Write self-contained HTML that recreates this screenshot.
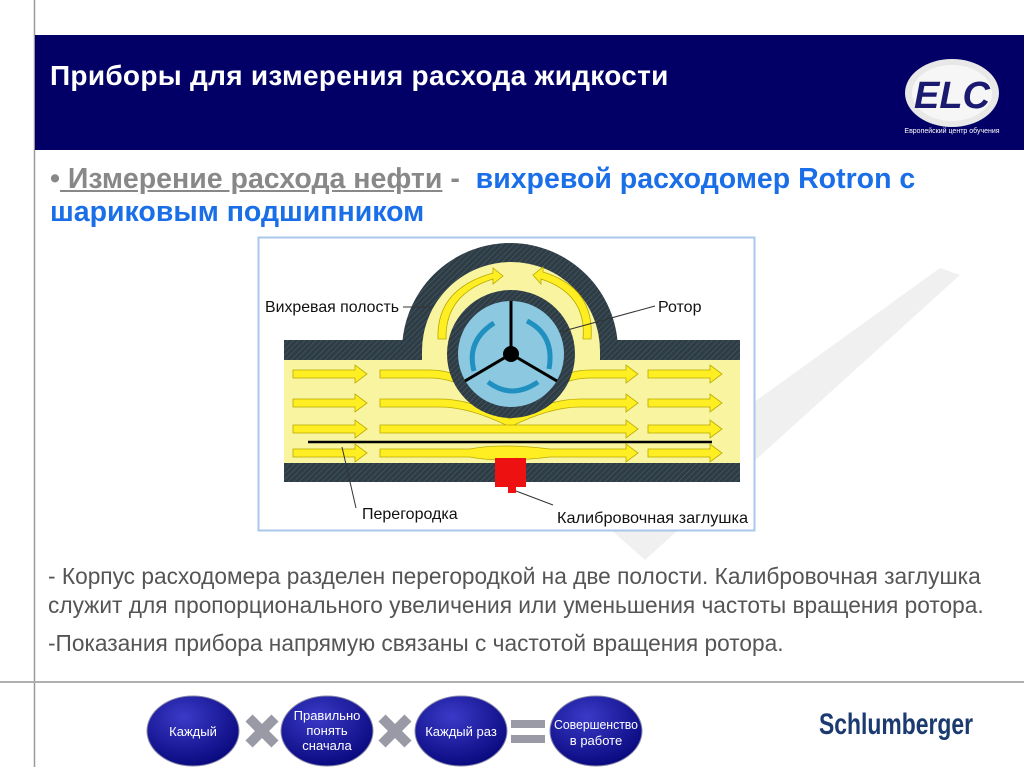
<!DOCTYPE html>
<html><head><meta charset="utf-8"><style>
body{margin:0;width:1024px;height:767px;background:#fff;position:relative;overflow:hidden;font-family:"Liberation Sans",sans-serif}
.abs{position:absolute;white-space:nowrap}
</style></head><body>
<svg class="abs" style="left:0;top:0" width="1024" height="767">
<polygon points="600,520 645,560 960,275 940,268 660,470" fill="#f0f0f0"/>
<polygon points="600,520 640,430 660,470" fill="#f4f4f4"/>
<line x1="34.5" y1="0" x2="34.5" y2="767" stroke="#9a9a9a" stroke-width="1.5"/>
<line x1="0" y1="682" x2="1024" y2="682" stroke="#b0b0b0" stroke-width="2"/>
<rect x="35" y="35" width="989" height="115" fill="#020066"/>
<ellipse cx="952" cy="93" rx="47" ry="34" fill="#e8e8e8"/>
<ellipse cx="952" cy="93" rx="40" ry="28" fill="#f6f6f6"/>
<text x="952" y="108" text-anchor="middle" font-family="Liberation Sans" font-weight="bold" font-style="italic" font-size="38" fill="#1a1a70">ELC</text>
<text x="952" y="133" text-anchor="middle" font-family="Liberation Sans" font-size="7" fill="#fff">Европейский центр обучения</text>
<rect x="258.5" y="237.5" width="496" height="293" fill="#fff" stroke="#a8c8ec" stroke-width="2"/>
<defs><pattern id="h" width="4" height="4" patternUnits="userSpaceOnUse" patternTransform="rotate(45)"><rect width="4" height="4" fill="#2d3c45"/><line x1="0" y1="0" x2="0" y2="4" stroke="#4c5c66" stroke-width="1.2"/></pattern></defs>
<rect x="284" y="340" width="456" height="142" fill="url(#h)"/>
<circle cx="510" cy="351" r="108" fill="url(#h)"/>
<rect x="284" y="360" width="456" height="103" fill="#f8f4a0"/>
<circle cx="511" cy="351" r="89" fill="#f8f4a0"/>
<rect x="422" y="351" width="178" height="20" fill="#f8f4a0"/>
<g fill="#ffee22" stroke="#b8a800" stroke-width="0.8">
<path d="M293,370h62v-5l12,9l-12,9v-5h-62z"/>
<path d="M293,399h62v-5l12,9l-12,9v-5h-62z"/>
<path d="M293,425h62v-5l12,9l-12,9v-5h-62z"/>
<path d="M293,449h62v-5l12,9l-12,9v-5h-62z"/>
<path d="M648,370h62v-5l12,9l-12,9v-5h-62z"/>
<path d="M648,399h62v-5l12,9l-12,9v-5h-62z"/>
<path d="M648,425h62v-5l12,9l-12,9v-5h-62z"/>
<path d="M648,449h62v-5l12,9l-12,9v-5h-62z"/>
<path d="M380,370h50q40,0 80,45q40,-45 80,-45h36v-5l12,9l-12,9v-5h-36q-40,0 -80,45q-40,-45 -80,-45h-50z"/>
<path d="M380,399h60q30,0 70,20q40,-20 70,-20h46v-5l12,9l-12,9v-5h-46q-30,0 -70,20q-40,-20 -70,-20h-60z"/>
<path d="M380,425h246v-5l12,9l-12,9v-5h-246z"/>
<path d="M380,449h90q30,-6 80,0h76v-5l12,9l-12,9v-5h-76q-50,6 -80,0h-90z"/>
<path d="M438,339 q-2,-50 55,-66 l0,-5 l10,8 l-10,8 l0,-5 q-48,15 -47,60z"/>
<path d="M583,339 q4,-45 -42,-60 l0,5 l-8,-9 l10,-8 l0,5 q52,16 48,67z"/>
</g>
<circle cx="511" cy="354" r="64" fill="url(#h)"/>
<circle cx="511" cy="354" r="53" fill="#8cc8e0"/>
<g fill="none" stroke="#2090c0" stroke-width="5">
<path d="M474,371 q-8,-30 20,-48"/><path d="M527,321 q28,14 22,48"/><path d="M488,382 q24,18 50,0"/>
</g>
<g stroke="#000" stroke-width="3"><line x1="511" y1="354" x2="511" y2="301"/><line x1="511" y1="354" x2="465" y2="381"/><line x1="511" y1="354" x2="557" y2="381"/></g>
<circle cx="511" cy="354" r="8" fill="#000"/>
<line x1="308" y1="442" x2="712" y2="442" stroke="#000" stroke-width="2.5"/>
<rect x="495" y="458" width="31" height="29" fill="#ee1111"/>
<rect x="508" y="487" width="8" height="6" fill="#ee1111"/>
<g stroke="#333" stroke-width="1" fill="none">
<line x1="403" y1="307" x2="432" y2="307"/><line x1="655" y1="306" x2="560" y2="332"/>
<line x1="342" y1="447" x2="356" y2="508"/><line x1="516" y1="491" x2="553" y2="505"/>
</g>
<g font-family="Liberation Sans" font-size="16" fill="#111">
<text x="265" y="312" textLength="134" lengthAdjust="spacingAndGlyphs">Вихревая полость</text><text x="658" y="312">Ротор</text>
<text x="362" y="519">Перегородка</text><text x="557" y="523" textLength="191" lengthAdjust="spacingAndGlyphs">Калибровочная заглушка</text>
</g>
<defs><radialGradient id="o" cx="0.4" cy="0.3" r="0.7"><stop offset="0" stop-color="#3a3ac8"/><stop offset="1" stop-color="#0a0a80"/></radialGradient></defs>
<g fill="url(#o)" stroke="#8888aa" stroke-width="1">
<ellipse cx="193" cy="731" rx="46" ry="35"/><ellipse cx="327" cy="731" rx="46" ry="35"/>
<ellipse cx="461" cy="731" rx="46" ry="35"/><ellipse cx="596" cy="731" rx="46" ry="35"/>
</g>
<g stroke="#9a9aa6" stroke-width="10"><line x1="249" y1="718" x2="275" y2="744"/><line x1="275" y1="718" x2="249" y2="744"/>
<line x1="382" y1="718" x2="408" y2="744"/><line x1="408" y1="718" x2="382" y2="744"/></g>
<rect x="511" y="720" width="34" height="8" fill="#9a9aa6"/><rect x="511" y="735" width="34" height="8" fill="#9a9aa6"/>
<g font-family="Liberation Sans" font-size="13" fill="#fff" text-anchor="middle">
<text x="193" y="736">Каждый</text>
<text x="327" y="720">Правильно</text><text x="327" y="735">понять</text><text x="327" y="750">сначала</text>
<text x="461" y="736">Каждый раз</text>
<text x="596" y="729" textLength="84" lengthAdjust="spacingAndGlyphs">Совершенство</text><text x="596" y="745">в работе</text>
</g>
<text x="896" y="734" text-anchor="middle" font-family="Liberation Sans" font-weight="bold" font-size="30" fill="#1a3a70" textLength="154" lengthAdjust="spacingAndGlyphs">Schlumberger</text>
</svg>
<div class="abs" style="left:50px;top:60px;color:#fff;font-weight:bold;font-size:28px;letter-spacing:0.3px">Приборы для измерения расхода жидкости</div>
<div class="abs" style="left:50px;top:163px;font-weight:bold;font-size:28.5px;line-height:33px;color:#1a6ee8;width:900px"><span style="color:#888">•<u> Измерение расхода нефти</u> - </span>&nbsp;вихревой расходомер Rotron с<br>шариковым подшипником</div>
<div class="abs" style="left:48px;top:562px;font-size:22.7px;line-height:29px;color:#555">- Корпус расходомера разделен перегородкой на две полости. Калибровочная заглушка<br>служит для пропорционального увеличения или уменьшения частоты вращения ротора.</div>
<div class="abs" style="left:48px;top:629px;font-size:22.7px;line-height:29px;color:#555">-Показания прибора напрямую связаны с частотой вращения ротора.</div>
</body></html>
